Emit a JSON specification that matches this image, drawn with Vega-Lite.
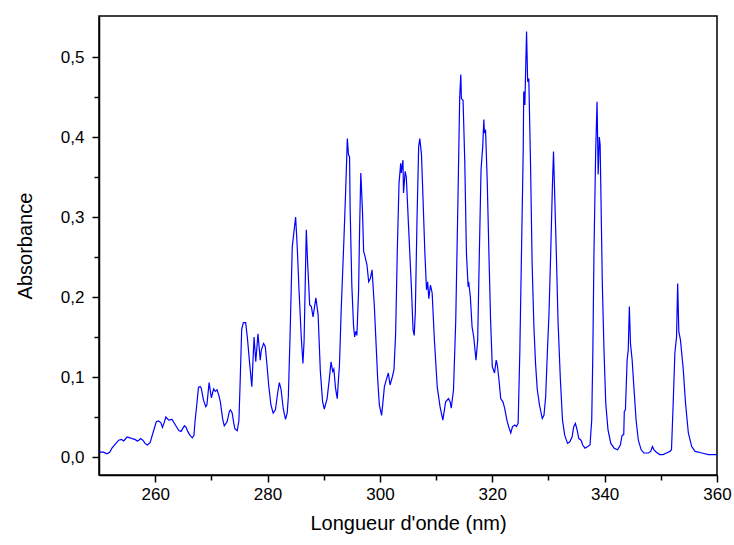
{
  "$schema": "https://vega.github.io/schema/vega-lite/v6.json",
  "autosize": "none",
  "width": 618,
  "height": 459,
  "padding": {"left": 99, "top": 16, "right": 17, "bottom": 70},
  "background": "white",
  "config": {
    "view": {"stroke": "black", "strokeWidth": 1.5},
    "font": "Liberation Sans",
    "axis": {
      "domainColor": "black", "domainWidth": 1.5,
      "tickColor": "black", "tickWidth": 1.5,
      "labelColor": "black", "titleColor": "black",
      "labelFont": "Liberation Sans", "titleFont": "Liberation Sans",
      "labelFontSize": 17, "titleFontSize": 20, "titleFontWeight": "normal",
      "grid": false
    }
  },
  "data": {"values": [
    {"wl":250.0,"abs":0.008},{"wl":250.3,"abs":0.006},{"wl":250.8,"abs":0.006},{"wl":251.4,"abs":0.004},{"wl":251.9,"abs":0.006},
    {"wl":252.3,"abs":0.011},{"wl":252.9,"abs":0.016},{"wl":253.5,"abs":0.021},{"wl":254.0,"abs":0.022},{"wl":254.4,"abs":0.020},
    {"wl":255.0,"abs":0.025},{"wl":255.5,"abs":0.024},{"wl":255.9,"abs":0.023},{"wl":256.4,"abs":0.022},{"wl":256.8,"abs":0.020},
    {"wl":257.1,"abs":0.021},{"wl":257.4,"abs":0.023},{"wl":257.8,"abs":0.021},{"wl":258.2,"abs":0.017},{"wl":258.6,"abs":0.015},
    {"wl":259.1,"abs":0.018},{"wl":259.6,"abs":0.030},{"wl":260.2,"abs":0.044},{"wl":260.6,"abs":0.045},{"wl":261.0,"abs":0.043},
    {"wl":261.3,"abs":0.037},{"wl":261.6,"abs":0.043},{"wl":261.9,"abs":0.050},{"wl":262.4,"abs":0.046},{"wl":263.0,"abs":0.047},
    {"wl":263.6,"abs":0.040},{"wl":264.2,"abs":0.033},{"wl":264.6,"abs":0.032},{"wl":265.2,"abs":0.039},{"wl":265.5,"abs":0.037},
    {"wl":265.8,"abs":0.032},{"wl":266.2,"abs":0.027},{"wl":266.6,"abs":0.024},{"wl":266.9,"abs":0.027},{"wl":267.1,"abs":0.045},
    {"wl":267.4,"abs":0.065},{"wl":267.7,"abs":0.087},{"wl":268.0,"abs":0.088},{"wl":268.2,"abs":0.086},{"wl":268.6,"abs":0.071},
    {"wl":269.0,"abs":0.063},{"wl":269.2,"abs":0.065},{"wl":269.6,"abs":0.093},{"wl":270.0,"abs":0.074},{"wl":270.4,"abs":0.085},
    {"wl":270.7,"abs":0.082},{"wl":271.0,"abs":0.084},{"wl":271.3,"abs":0.078},{"wl":271.6,"abs":0.069},{"wl":272.0,"abs":0.048},
    {"wl":272.3,"abs":0.039},{"wl":272.8,"abs":0.044},{"wl":273.2,"abs":0.057},{"wl":273.4,"abs":0.059},{"wl":273.7,"abs":0.055},
    {"wl":274.0,"abs":0.042},{"wl":274.2,"abs":0.035},{"wl":274.6,"abs":0.033},{"wl":274.9,"abs":0.045},{"wl":275.1,"abs":0.088},
    {"wl":275.4,"abs":0.160},{"wl":275.7,"abs":0.168},{"wl":276.1,"abs":0.168},{"wl":276.4,"abs":0.150},{"wl":276.8,"abs":0.118},
    {"wl":277.2,"abs":0.088},{"wl":277.6,"abs":0.150},{"wl":277.9,"abs":0.119},{"wl":278.3,"abs":0.154},{"wl":278.7,"abs":0.121},
    {"wl":278.9,"abs":0.134},{"wl":279.3,"abs":0.142},{"wl":279.6,"abs":0.138},{"wl":279.9,"abs":0.115},{"wl":280.2,"abs":0.090},
    {"wl":280.6,"abs":0.065},{"wl":281.0,"abs":0.055},{"wl":281.4,"abs":0.059},{"wl":281.8,"abs":0.080},{"wl":282.1,"abs":0.093},
    {"wl":282.4,"abs":0.085},{"wl":282.8,"abs":0.060},{"wl":283.2,"abs":0.047},{"wl":283.5,"abs":0.055},{"wl":283.7,"abs":0.075},
    {"wl":284.0,"abs":0.150},{"wl":284.4,"abs":0.263},{"wl":285.0,"abs":0.300},{"wl":285.3,"abs":0.260},{"wl":285.6,"abs":0.209},
    {"wl":286.0,"abs":0.150},{"wl":286.3,"abs":0.117},{"wl":286.5,"abs":0.144},{"wl":286.9,"abs":0.284},{"wl":287.1,"abs":0.248},
    {"wl":287.5,"abs":0.190},{"wl":287.8,"abs":0.188},{"wl":288.1,"abs":0.175},{"wl":288.6,"abs":0.199},{"wl":289.0,"abs":0.178},
    {"wl":289.4,"abs":0.107},{"wl":289.8,"abs":0.069},{"wl":290.1,"abs":0.060},{"wl":290.6,"abs":0.073},{"wl":291.0,"abs":0.098},
    {"wl":291.3,"abs":0.119},{"wl":291.6,"abs":0.107},{"wl":291.8,"abs":0.110},{"wl":292.1,"abs":0.086},{"wl":292.4,"abs":0.073},
    {"wl":292.8,"abs":0.115},{"wl":293.1,"abs":0.182},{"wl":293.6,"abs":0.273},{"wl":293.9,"abs":0.332},{"wl":294.2,"abs":0.398},
    {"wl":294.4,"abs":0.378},{"wl":294.6,"abs":0.375},{"wl":294.7,"abs":0.311},{"wl":295.0,"abs":0.215},{"wl":295.3,"abs":0.165},
    {"wl":295.5,"abs":0.150},{"wl":295.7,"abs":0.157},{"wl":295.9,"abs":0.152},{"wl":296.2,"abs":0.207},{"wl":296.4,"abs":0.290},
    {"wl":296.6,"abs":0.355},{"wl":296.9,"abs":0.307},{"wl":297.1,"abs":0.257},{"wl":297.3,"abs":0.252},{"wl":297.7,"abs":0.240},
    {"wl":298.0,"abs":0.219},{"wl":298.3,"abs":0.223},{"wl":298.6,"abs":0.234},{"wl":299.0,"abs":0.190},{"wl":299.3,"abs":0.144},
    {"wl":299.6,"abs":0.098},{"wl":299.9,"abs":0.065},{"wl":300.3,"abs":0.052},{"wl":300.6,"abs":0.073},{"wl":300.8,"abs":0.088},
    {"wl":301.2,"abs":0.098},{"wl":301.5,"abs":0.105},{"wl":301.8,"abs":0.090},{"wl":302.2,"abs":0.100},{"wl":302.5,"abs":0.109},
    {"wl":302.8,"abs":0.155},{"wl":303.1,"abs":0.259},{"wl":303.4,"abs":0.342},{"wl":303.7,"abs":0.367},{"wl":303.8,"abs":0.355},
    {"wl":304.1,"abs":0.371},{"wl":304.2,"abs":0.330},{"wl":304.5,"abs":0.357},{"wl":304.7,"abs":0.350},{"wl":305.1,"abs":0.288},
    {"wl":305.6,"abs":0.213},{"wl":305.9,"abs":0.159},{"wl":306.1,"abs":0.152},{"wl":306.3,"abs":0.180},{"wl":306.6,"abs":0.296},
    {"wl":306.9,"abs":0.388},{"wl":307.1,"abs":0.398},{"wl":307.4,"abs":0.378},{"wl":307.6,"abs":0.338},{"wl":308.0,"abs":0.255},
    {"wl":308.3,"abs":0.209},{"wl":308.5,"abs":0.219},{"wl":308.7,"abs":0.198},{"wl":309.0,"abs":0.215},{"wl":309.3,"abs":0.205},
    {"wl":309.7,"abs":0.146},{"wl":310.2,"abs":0.088},{"wl":310.7,"abs":0.063},{"wl":311.2,"abs":0.046},{"wl":311.7,"abs":0.069},
    {"wl":312.2,"abs":0.073},{"wl":312.5,"abs":0.069},{"wl":312.7,"abs":0.061},{"wl":313.1,"abs":0.084},{"wl":313.5,"abs":0.171},
    {"wl":313.9,"abs":0.325},{"wl":314.2,"abs":0.450},{"wl":314.4,"abs":0.478},{"wl":314.5,"abs":0.448},{"wl":314.8,"abs":0.446},
    {"wl":315.1,"abs":0.371},{"wl":315.4,"abs":0.255},{"wl":315.7,"abs":0.213},{"wl":315.8,"abs":0.219},{"wl":316.1,"abs":0.200},
    {"wl":316.4,"abs":0.163},{"wl":316.7,"abs":0.150},{"wl":317.1,"abs":0.121},{"wl":317.4,"abs":0.146},{"wl":317.7,"abs":0.255},
    {"wl":318.0,"abs":0.359},{"wl":318.3,"abs":0.388},{"wl":318.5,"abs":0.422},{"wl":318.6,"abs":0.405},{"wl":318.8,"abs":0.409},
    {"wl":319.1,"abs":0.346},{"wl":319.4,"abs":0.255},{"wl":319.7,"abs":0.171},{"wl":320.0,"abs":0.113},{"wl":320.2,"abs":0.109},
    {"wl":320.4,"abs":0.105},{"wl":320.7,"abs":0.121},{"wl":320.9,"abs":0.115},{"wl":321.2,"abs":0.096},{"wl":321.5,"abs":0.073},
    {"wl":321.9,"abs":0.069},{"wl":322.2,"abs":0.061},{"wl":322.6,"abs":0.046},{"wl":323.0,"abs":0.036},{"wl":323.3,"abs":0.030},
    {"wl":323.6,"abs":0.038},{"wl":324.0,"abs":0.040},{"wl":324.3,"abs":0.038},{"wl":324.6,"abs":0.042},{"wl":324.9,"abs":0.130},
    {"wl":325.2,"abs":0.255},{"wl":325.5,"abs":0.380},{"wl":325.6,"abs":0.457},{"wl":325.8,"abs":0.440},{"wl":326.1,"abs":0.532},
    {"wl":326.3,"abs":0.469},{"wl":326.5,"abs":0.473},{"wl":326.8,"abs":0.370},{"wl":327.1,"abs":0.240},{"wl":327.4,"abs":0.165},
    {"wl":327.7,"abs":0.117},{"wl":328.0,"abs":0.085},{"wl":328.4,"abs":0.065},{"wl":328.9,"abs":0.048},{"wl":329.2,"abs":0.052},
    {"wl":329.5,"abs":0.075},{"wl":329.8,"abs":0.130},{"wl":330.1,"abs":0.180},{"wl":330.4,"abs":0.255},{"wl":330.7,"abs":0.338},
    {"wl":330.9,"abs":0.382},{"wl":331.1,"abs":0.330},{"wl":331.4,"abs":0.255},{"wl":331.7,"abs":0.171},{"wl":332.1,"abs":0.100},
    {"wl":332.5,"abs":0.046},{"wl":332.9,"abs":0.027},{"wl":333.4,"abs":0.017},{"wl":333.8,"abs":0.019},{"wl":334.2,"abs":0.025},
    {"wl":334.5,"abs":0.038},{"wl":334.8,"abs":0.042},{"wl":335.1,"abs":0.034},{"wl":335.4,"abs":0.023},{"wl":335.8,"abs":0.021},
    {"wl":336.1,"abs":0.015},{"wl":336.5,"abs":0.011},{"wl":337.0,"abs":0.013},{"wl":337.4,"abs":0.015},{"wl":337.7,"abs":0.046},
    {"wl":337.9,"abs":0.130},{"wl":338.1,"abs":0.255},{"wl":338.4,"abs":0.380},{"wl":338.65,"abs":0.444},{"wl":338.85,"abs":0.353},
    {"wl":339.05,"abs":0.400},{"wl":339.2,"abs":0.390},{"wl":339.4,"abs":0.300},{"wl":339.6,"abs":0.213},{"wl":339.9,"abs":0.130},
    {"wl":340.2,"abs":0.067},{"wl":340.6,"abs":0.034},{"wl":341.1,"abs":0.017},{"wl":341.7,"abs":0.011},{"wl":342.3,"abs":0.009},
    {"wl":342.8,"abs":0.015},{"wl":343.1,"abs":0.027},{"wl":343.4,"abs":0.028},{"wl":343.5,"abs":0.057},{"wl":343.7,"abs":0.059},
    {"wl":344.0,"abs":0.121},{"wl":344.2,"abs":0.134},{"wl":344.4,"abs":0.188},{"wl":344.6,"abs":0.142},{"wl":344.9,"abs":0.121},
    {"wl":345.2,"abs":0.088},{"wl":345.6,"abs":0.046},{"wl":346.0,"abs":0.021},{"wl":346.5,"abs":0.009},{"wl":347.0,"abs":0.005},
    {"wl":347.4,"abs":0.005},{"wl":347.8,"abs":0.005},{"wl":348.2,"abs":0.007},{"wl":348.5,"abs":0.013},{"wl":348.8,"abs":0.009},
    {"wl":349.2,"abs":0.006},{"wl":349.8,"abs":0.003},{"wl":350.4,"abs":0.003},{"wl":351.0,"abs":0.005},{"wl":351.6,"abs":0.007},
    {"wl":351.9,"abs":0.009},{"wl":352.2,"abs":0.067},{"wl":352.5,"abs":0.130},{"wl":352.8,"abs":0.150},{"wl":353.0,"abs":0.217},
    {"wl":353.2,"abs":0.157},{"wl":353.5,"abs":0.146},{"wl":354.0,"abs":0.109},{"wl":354.4,"abs":0.067},{"wl":354.9,"abs":0.030},
    {"wl":355.5,"abs":0.013},{"wl":356.1,"abs":0.007},{"wl":357.3,"abs":0.005},{"wl":358.5,"abs":0.003},{"wl":359.4,"abs":0.003},
    {"wl":360.0,"abs":0.003}
  ]},
  "mark": {"type": "line", "color": "#0000ff", "strokeWidth": 1.2, "clip": true},
  "encoding": {
    "x": {
      "field": "wl", "type": "quantitative",
      "scale": {"domain": [250, 360], "nice": false, "zero": false},
      "axis": {
        "title": "Longueur d'onde (nm)",
        "values": [260, 270, 280, 290, 300, 310, 320, 330, 340, 350, 360],
        "labelExpr": "datum.value % 20 == 0 ? format(datum.value, 'd') : ''",
        "tickSize": {"condition": {"test": "datum.value % 20 == 0", "value": 7}, "value": 5},
        "labelPadding": 4,
        "labelFlush": false,
        "titlePadding": 11
      }
    },
    "y": {
      "field": "abs", "type": "quantitative",
      "scale": {"domain": [-0.0225, 0.55125], "nice": false, "zero": false},
      "axis": {
        "title": "Absorbance",
        "values": [0, 0.05, 0.1, 0.15, 0.2, 0.25, 0.3, 0.35, 0.4, 0.45, 0.5],
        "labelExpr": "(round(datum.value * 100) % 10 == 0) ? replace(format(datum.value, '.1f'), '.', ',') : ''",
        "tickSize": {"condition": {"test": "round(datum.value * 100) % 10 == 0", "value": 7}, "value": 5},
        "labelPadding": 8,
        "labelFlush": false,
        "titlePadding": 25
      }
    }
  }
}
